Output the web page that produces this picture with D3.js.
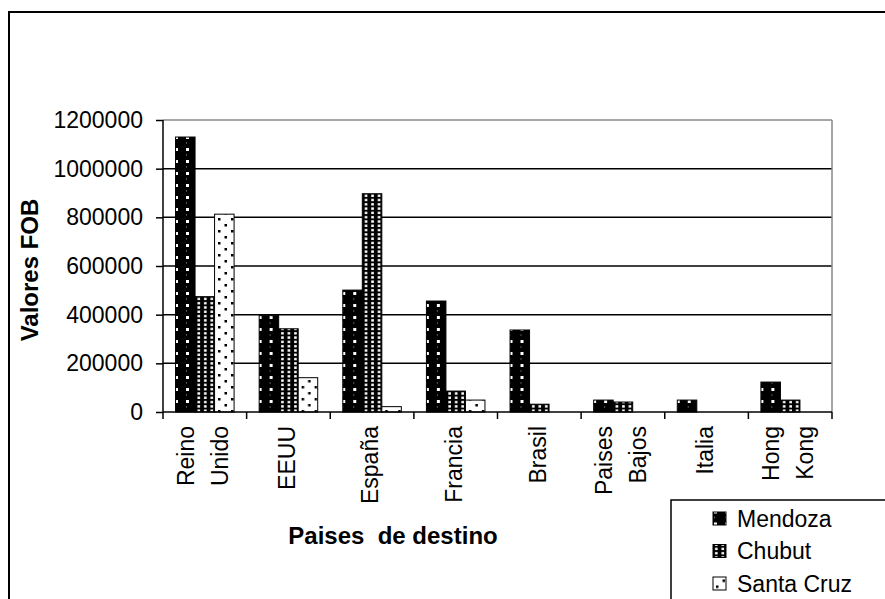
<!DOCTYPE html>
<html>
<head>
<meta charset="utf-8">
<style>
  body { margin: 0; background: #fff; }
  text { font-family: "Liberation Sans", Arial, sans-serif; fill: #000; }
</style>
</head>
<body>
<svg width="885" height="599"></svg>
<script src="https://d3js.org/d3.v7.min.js"></script>
<script>

// data
var paises = ["Reino Unido", "EEUU", "España", "Francia", "Brasil", "Paises Bajos", "Italia", "Hong Kong"];
var series = ["Mendoza", "Chubut", "Santa Cruz"];
var mendoza   = [1130000, 396000, 501000, 456000, 337000, 49000, 49000, 123000];
var chubut    = [474000, 342000, 897000, 86000, 32000, 41000, 0, 49000];
var santaCruz = [813000, 141000, 22000, 49000, 0, 0, 0, 0];
var yTicks = [0, 200000, 400000, 600000, 800000, 1000000, 1200000];

var valores = { "Mendoza": mendoza, "Chubut": chubut, "Santa Cruz": santaCruz };

var svg = d3.select("svg");

// patterns for the three series
var defs = svg.append("defs");
var pm = defs.append("pattern").attr("id", "p-mendoza").attr("patternUnits", "userSpaceOnUse")
    .attr("width", 11).attr("height", 12);
pm.append("rect").attr("width", 11).attr("height", 12).attr("fill", "#000");
pm.append("rect").attr("x", 1).attr("y", 4).attr("width", 3).attr("height", 3).attr("fill", "#fff");
pm.append("rect").attr("x", 1).attr("y", 10).attr("width", 1).attr("height", 2).attr("fill", "#555");

var pc = defs.append("pattern").attr("id", "p-chubut").attr("patternUnits", "userSpaceOnUse")
    .attr("width", 6.5).attr("height", 4.3);
pc.append("rect").attr("width", 6.5).attr("height", 4.3).attr("fill", "#000");
pc.append("rect").attr("x", 2).attr("y", 1).attr("width", 2.6).attr("height", 2.4).attr("fill", "#fff");

var ps = defs.append("pattern").attr("id", "p-santa").attr("patternUnits", "userSpaceOnUse")
    .attr("width", 13).attr("height", 12);
ps.append("rect").attr("width", 13).attr("height", 12).attr("fill", "#fff");
ps.append("rect").attr("x", 3).attr("y", 2).attr("width", 2.5).attr("height", 2.5).attr("fill", "#000");
ps.append("rect").attr("x", 9.5).attr("y", 8).attr("width", 2.5).attr("height", 2.5).attr("fill", "#000");

var fills = { "Mendoza": "url(#p-mendoza)", "Chubut": "url(#p-chubut)", "Santa Cruz": "url(#p-santa)" };

// outer frame
svg.append("rect").attr("x", 9).attr("y", 12).attr("width", 900).attr("height", 620)
    .attr("fill", "none").attr("stroke", "#000").attr("stroke-width", 2);

var pLeft = 163, pRight = 832, pTop = 120, pBottom = 412;

var x0 = d3.scaleBand().domain(paises).range([pLeft, pRight]);
var x1 = d3.scaleBand().domain(series)
    .range([x0.bandwidth() * 0.15, x0.bandwidth() * 0.85]);
var y = d3.scaleLinear().domain([0, 1200000]).range([pBottom, pTop]);

// gridlines
svg.append("g").selectAll("line").data(yTicks.slice(1)).join("line")
    .attr("x1", pLeft).attr("x2", pRight)
    .attr("y1", function(d) { return y(d); }).attr("y2", function(d) { return y(d); })
    .attr("stroke", function(d) { return d === 1200000 ? "#888" : "#000"; })
    .attr("stroke-width", 1.5);
svg.append("line").attr("x1", pRight).attr("x2", pRight).attr("y1", pTop).attr("y2", pBottom)
    .attr("stroke", "#888").attr("stroke-width", 1.5);

// bars
var groups = svg.append("g").selectAll("g").data(paises).join("g")
    .attr("transform", function(d) { return "translate(" + x0(d) + ",0)"; });
groups.selectAll("rect")
    .data(function(p, i) { return series.map(function(s) { return { s: s, v: valores[s][i] }; }); })
    .join("rect")
    .filter(function(d) { return d.v > 0; })
    .attr("x", function(d) { return x1(d.s); })
    .attr("width", x1.bandwidth())
    .attr("y", function(d) { return y(d.v); })
    .attr("height", function(d) { return pBottom - y(d.v); })
    .attr("fill", function(d) { return fills[d.s]; })
    .attr("stroke", "#000").attr("stroke-width", 1);

// y axis
var yAxis = svg.append("g").attr("transform", "translate(" + pLeft + ",0)")
    .call(d3.axisLeft(y).tickValues(yTicks).tickSize(7).tickPadding(13).tickFormat(d3.format("d")));
yAxis.select(".domain").remove();
yAxis.selectAll(".tick line").attr("stroke", "#000").attr("stroke-width", 1.5);
yAxis.selectAll(".tick text").attr("font-size", 23).attr("font-family", "Liberation Sans, Arial, sans-serif");
svg.append("line").attr("x1", pLeft).attr("x2", pLeft).attr("y1", pTop).attr("y2", pBottom)
    .attr("stroke", "#000").attr("stroke-width", 1.5);

// x axis
svg.append("line").attr("x1", pLeft).attr("x2", pRight).attr("y1", pBottom).attr("y2", pBottom)
    .attr("stroke", "#000").attr("stroke-width", 1.5);
var bounds = paises.map(function(p) { return x0(p); }).concat([pRight]);
svg.append("g").selectAll("line").data(bounds).join("line")
    .attr("x1", function(d) { return d; }).attr("x2", function(d) { return d; })
    .attr("y1", pBottom).attr("y2", pBottom + 7)
    .attr("stroke", "#000").attr("stroke-width", 1.5);

paises.forEach(function(p) {
  var lines = p.split(" ");
  var cx = x0(p) + x0.bandwidth() / 2 - 2;
  lines.forEach(function(l, i) {
    var bx = cx + 8.3 + (i - (lines.length - 1) / 2) * 34;
    svg.append("text")
        .attr("transform", "translate(" + bx + ",426) rotate(-90)")
        .attr("text-anchor", "end")
        .attr("font-size", 23)
        .text(l);
  });
});

// axis titles
svg.append("text")
    .attr("transform", "translate(38,270) rotate(-90)")
    .attr("text-anchor", "middle")
    .attr("font-size", 24).attr("font-weight", "bold")
    .text("Valores FOB");
svg.append("text")
    .attr("x", 393).attr("y", 544)
    .attr("text-anchor", "middle")
    .attr("font-size", 24).attr("font-weight", "bold")
    .style("white-space", "pre")
    .text("Paises  de destino");

// legend
svg.append("rect").attr("x", 671).attr("y", 500).attr("width", 300).attr("height", 200)
    .attr("fill", "#fff").attr("stroke", "#000").attr("stroke-width", 1.5);
var leg = svg.append("g").selectAll("g").data(series).join("g")
    .attr("transform", function(d, i) { return "translate(713," + (518.5 + i * 32.5) + ")"; });
leg.append("rect").attr("x", 0).attr("y", -6.5).attr("width", 13).attr("height", 13)
    .attr("fill", function(d) { return fills[d]; }).attr("stroke", "#000").attr("stroke-width", 1);
leg.append("text").attr("x", 24).attr("dy", "0.35em").attr("font-size", 23)
    .text(function(d) { return d; });

</script>
</body>
</html>
